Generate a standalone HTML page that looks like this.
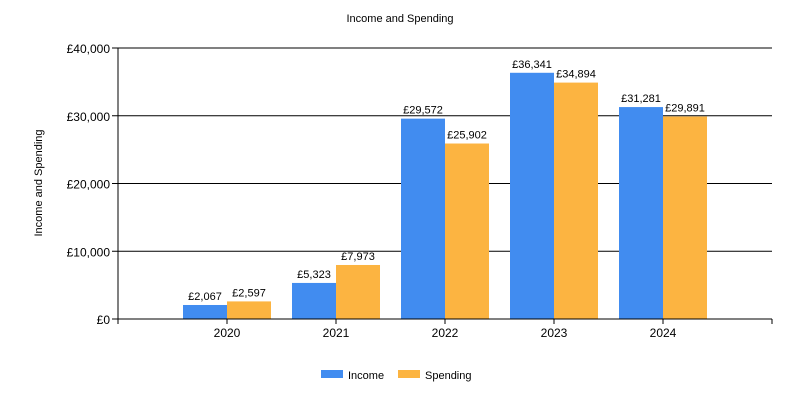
<!DOCTYPE html>
<html><head><meta charset="utf-8"><style>
body{margin:0;background:#fff;}
svg text{font-family:"Liberation Sans",sans-serif;}
</style></head><body>
<svg id="chart" width="800" height="400" xmlns="http://www.w3.org/2000/svg">
<text x="400" y="22" font-size="11" text-anchor="middle">Income and Spending</text>
<text transform="translate(42,183) rotate(-90)" font-size="11" text-anchor="middle">Income and Spending</text>
<g id="grid"></g><g id="bars"></g><g id="axes"></g>
<g>
<rect x="321" y="370" width="22" height="8" fill="#418CF0"/>
<text x="348" y="379" font-size="11">Income</text>
<rect x="398" y="370" width="22" height="8" fill="#FCB441"/>
<text x="425" y="379" font-size="11">Spending</text>
</g>
</svg>
<script>
const categories=["2020","2021","2022","2023","2024"];
const income=[2067,5323,29572,36341,31281];
const spending=[2597,7973,25902,34894,29891];
const yTicks=[0,10000,20000,30000,40000];
const NS="http://www.w3.org/2000/svg";
const L=118,R=772,T=48,B=319,YMAX=40000;
const y=v=>B-(v/YMAX)*(B-T);
const step=(R-L)/(categories.length+1);
const xc=i=>L+step*(i+1);
const fmt=v=>"£"+v.toLocaleString("en-GB");
function mk(tag,attrs,parent,text){const e=document.createElementNS(NS,tag);for(const k in attrs)e.setAttribute(k,attrs[k]);if(text!=null)e.textContent=text;document.getElementById(parent).appendChild(e);return e;}
yTicks.forEach(t=>{
 const g=mk("line",{x1:112,x2:R,y1:y(t),y2:y(t),stroke:"#000","stroke-width":1},"grid");
 
 
 const tx=mk("text",{x:110,y:y(t)+5,"font-size":12,"text-anchor":"end"},"grid",fmt(t));
 
 
});
const bw=44;
categories.forEach((c,i)=>{
 const cx=xc(i);
 const b1=mk("rect",{x:cx-bw,y:y(income[i]),width:bw,height:B-y(income[i]),fill:"#418CF0"},"bars");
 
 
 const b2=mk("rect",{x:cx,y:y(spending[i]),width:bw,height:B-y(spending[i]),fill:"#FCB441"},"bars");
 
 
 const l1=mk("text",{x:cx-bw/2,y:y(income[i])-5,"font-size":11,"text-anchor":"middle"},"bars",fmt(income[i]));
 
 
 const l2=mk("text",{x:cx+bw/2,y:y(spending[i])-5,"font-size":11,"text-anchor":"middle"},"bars",fmt(spending[i]));
 
 
 const tk=mk("line",{x1:cx,x2:cx,y1:B,y2:B+5,stroke:"#000"},"axes");
 
 
 const xl=mk("text",{x:cx,y:B+18,"font-size":12,"text-anchor":"middle"},"axes",c);
 
 
});
const ya=mk("line",{x1:L,x2:L,y1:T,y2:B+5,stroke:"#000"},"axes");


const xa=mk("line",{x1:L,x2:R,y1:B,y2:B,stroke:"#000"},"axes");


const re=mk("line",{x1:R,x2:R,y1:B,y2:B+5,stroke:"#000"},"axes");


</script>
</body></html>
